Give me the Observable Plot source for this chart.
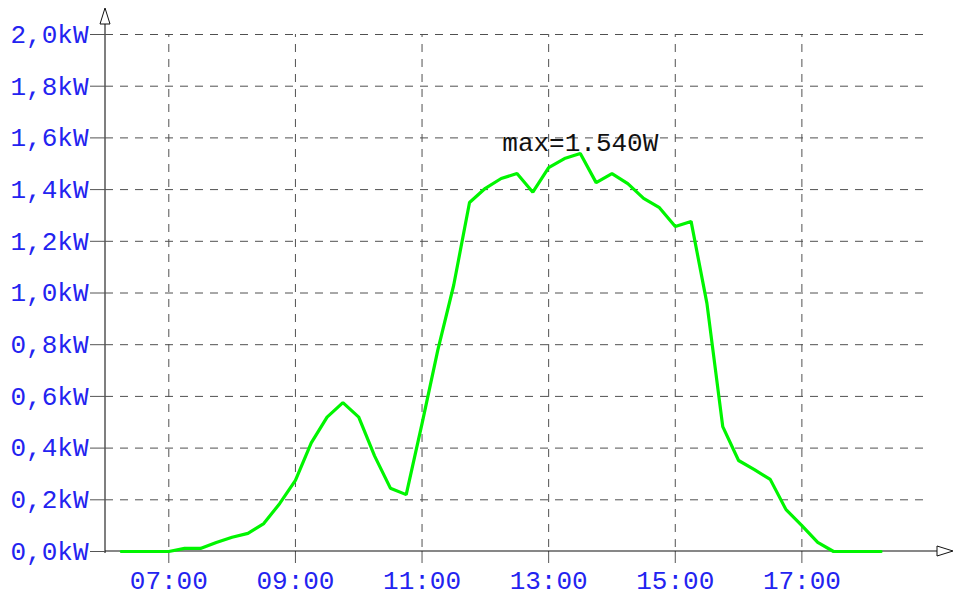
<!DOCTYPE html>
<html>
<head>
<meta charset="utf-8">
<script src="https://cdn.jsdelivr.net/npm/d3@7"></script>
<script src="https://cdn.jsdelivr.net/npm/@observablehq/plot@0.6"></script>
<style>
  html, body { margin: 0; padding: 0; background: #fff; }
  #chart svg { display: block; }
  #chart svg text { font-family: "Liberation Mono", "Courier New", monospace; }
</style>
</head>
<body>
<div id="chart"></div>
<script>
const times = ["06:15","06:30","06:45","07:00","07:15","07:30","07:45","08:00","08:15","08:30","08:45",
  "09:00","09:15","09:30","09:45","10:00","10:15","10:30","10:45","11:00","11:15","11:30","11:45",
  "12:00","12:15","12:30","12:45","13:00","13:15","13:30","13:45","14:00","14:15","14:30","14:45",
  "15:00","15:15","15:30","15:45","16:00","16:15","16:30","16:45","17:00","17:15","17:30","17:45",
  "18:00","18:15"];
const powerKW = [0,0,0,0,0.012,0.012,0.035,0.055,0.07,0.108,0.185,
  0.275,0.42,0.52,0.576,0.52,0.37,0.245,0.22,0.495,0.78,1.03,1.35,
  1.405,1.443,1.462,1.39,1.485,1.52,1.54,1.427,1.462,1.423,1.366,1.33,
  1.257,1.277,0.96,0.483,0.352,0.317,0.279,0.162,0.10,0.035,0,0,
  0,0];
const xTickLabels = ["07:00","09:00","11:00","13:00","15:00","17:00"];
const yTicks = [0,0.2,0.4,0.6,0.8,1.0,1.2,1.4,1.6,1.8,2.0];

const toHours = s => { const [h, m] = s.split(":").map(Number); return h + m / 60; };
const data = times.map((t, i) => ({ x: toHours(t), y: powerKW[i] }));
const xTicks = xTickLabels.map(toHours);
const maxPt = data.reduce((a, b) => (b.y > a.y ? b : a));
const fmtY = v => v.toFixed(1).replace(".", ",") + "kW";
const fmtX = h => String(Math.floor(h)).padStart(2, "0") + ":" + String(Math.round((h % 1) * 60)).padStart(2, "0");

const FONT = "'Liberation Mono', 'Courier New', monospace";
const BLUE = "#2323f0";

const plot = Plot.plot({
  width: 953,
  height: 597,
  marginLeft: 105,
  marginRight: 25,
  marginTop: 34,
  marginBottom: 46,
  style: { fontFamily: FONT, fontSize: "26px", background: "#fff", overflow: "visible" },
  x: { domain: [6, 19], label: null },
  y: { domain: [0, 2], label: null },
  marks: [
    Plot.ruleY(yTicks.filter(v => v > 0), { stroke: "#505050", strokeWidth: 1, strokeDasharray: "8,7" }),
    Plot.ruleX(xTicks, { y1: 0, y2: 2, stroke: "#505050", strokeWidth: 1, strokeDasharray: "8,7", strokeDashoffset: -4 }),
    Plot.axisY({ ticks: yTicks, tickFormat: fmtY, tickSize: 15, tickPadding: 2, stroke: "#555",
      fill: BLUE, fontSize: 26, label: null }),
    Plot.axisX({ ticks: xTicks, tickFormat: fmtX, tickSize: 12, tickPadding: 7, stroke: "#555",
      fill: BLUE, fontSize: 26, label: null }),
    Plot.line(data, { x: "x", y: "y", stroke: "#00f500", strokeWidth: 3.2, strokeLinejoin: "miter" }),
    Plot.text([maxPt], { x: "x", y: "y", text: d => "max=" + d.y.toFixed(3) + "W",
      lineAnchor: "bottom", dy: -2, fill: "#111", fontSize: 26, textAnchor: "middle" })
  ]
});

const svg = d3.select(plot);
const sx = plot.scale("x"), sy = plot.scale("y");
const x0 = sx.apply(6), x1 = sx.apply(19), y0 = sy.apply(0), y1 = sy.apply(2);
const g = svg.append("g");
// y axis line with arrow
g.append("line").attr("x1", x0).attr("x2", x0).attr("y1", y0 + 2).attr("y2", y1 - 10)
  .attr("stroke", "#555").attr("stroke-width", 1.5);
g.append("path").attr("d", `M${x0 - 5},${y1 - 10}L${x0},${y1 - 26}L${x0 + 5},${y1 - 10}Z`)
  .attr("fill", "#fff").attr("stroke", "#111").attr("stroke-width", 1);
// x axis line with arrow
g.append("line").attr("x1", x0).attr("x2", x1 + 9).attr("y1", y0).attr("y2", y0)
  .attr("stroke", "#111").attr("stroke-width", 1.2);
g.append("path").attr("d", `M${x1 + 9},${y0 - 5}L${x1 + 25},${y0}L${x1 + 9},${y0 + 5}Z`)
  .attr("fill", "#fff").attr("stroke", "#111").attr("stroke-width", 1);
// keep the line and label above the axes
svg.selectAll("[aria-label=line]").raise();
svg.selectAll("[aria-label=text]").raise();

document.getElementById("chart").appendChild(plot);
</script>
</body>
</html>
